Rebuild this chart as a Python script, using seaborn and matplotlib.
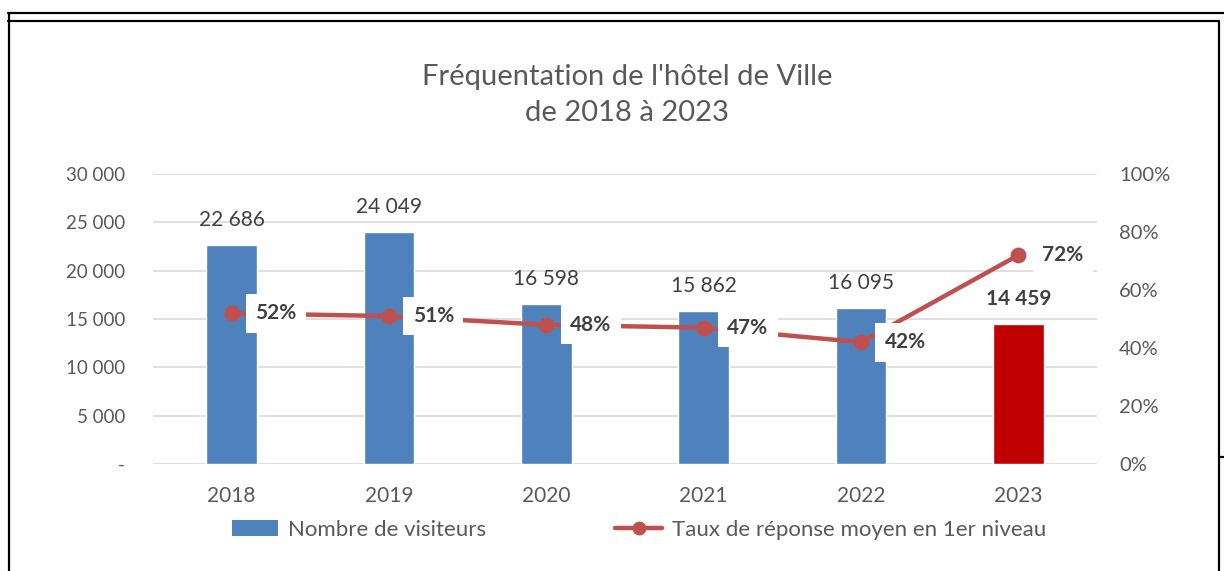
import matplotlib
matplotlib.use("Agg")
import matplotlib.pyplot as plt
import seaborn as sns
import pandas as pd
from matplotlib.patches import Patch
from matplotlib.lines import Line2D

years = ["2018", "2019", "2020", "2021", "2022", "2023"]
visiteurs = [22686, 24049, 16598, 15862, 16095, 14459]
taux = [0.52, 0.51, 0.48, 0.47, 0.42, 0.72]
bar_colors = ["#4F81BD", "#4F81BD", "#4F81BD", "#4F81BD", "#4F81BD", "#C00000"]
left_ticks = [0, 5000, 10000, 15000, 20000, 25000, 30000]
right_ticks = [0, 0.2, 0.4, 0.6, 0.8, 1.0]

sns.set_theme(style="white")
plt.rcParams["font.family"] = ["Lato", "DejaVu Sans"]

df = pd.DataFrame({"annee": years, "visiteurs": visiteurs, "taux": taux})

fig = plt.figure(figsize=(12.24, 5.71), dpi=100)
ax = fig.add_axes([153/1224, 1-464/571, (1097-153)/1224, 290/571])

sns.barplot(data=df, x="annee", y="visiteurs", hue="annee", palette=bar_colors,
            legend=False, width=0.32, ax=ax, saturation=1)
ax.set_xlim(-0.5, 5.5)
ax.set_ylim(0, 30000)
ax.set_yticks(left_ticks)
ax.set_yticklabels(["-" if v == 0 else f"{v:,}".replace(",", " ") for v in left_ticks])
ax.grid(axis="y", color="#D9D9D9", linewidth=1.2)
ax.set_axisbelow(True)
for s in ax.spines.values():
    s.set_visible(False)
ax.set_xlabel("")
ax.set_ylabel("")
ax.tick_params(axis="x", length=0, pad=16, labelsize=15, labelcolor="#595959")
ax.tick_params(axis="y", length=0, pad=20, labelsize=13.5, labelcolor="#595959")

for i, v in enumerate(visiteurs):
    last = i == len(visiteurs) - 1
    ax.annotate(f"{v:,}".replace(",", " "), (i, v), xytext=(0, 18), textcoords="offset points",
                ha="center", va="center", fontsize=15, color="#404040",
                fontweight="bold" if last else "normal")

ax2 = ax.twinx()
sns.pointplot(data=df, x="annee", y="taux", color="#C0504D", markers="o",
              linestyles="-", ax=ax2, markersize=9, linewidth=3.2)
ax2.set_xlim(-0.5, 5.5)
ax2.set_ylim(0, 1.0)
ax2.set_yticks(right_ticks)
ax2.set_yticklabels([f"{int(round(t*100))}%" for t in right_ticks])
for s in ax2.spines.values():
    s.set_visible(False)
ax2.set_xlabel("")
ax2.set_ylabel("")
ax2.tick_params(axis="y", length=0, pad=16, labelsize=14.5, labelcolor="#595959")
ax2.grid(False)

for i, t in enumerate(taux):
    ax2.annotate(f"{int(round(t*100))}%", (i, t), xytext=(17, 0), textcoords="offset points",
                 ha="left", va="center", fontsize=15, fontweight="bold", color="#404040",
                 bbox=dict(boxstyle="square,pad=0.45", fc="white", ec="none"), zorder=10)

fig.text(627/1224, 1-77/571, "Fréquentation de l'hôtel de Ville", ha="center", va="center",
         fontsize=21, color="#595959")
fig.text(627/1224, 1-113/571, "de 2018 à 2023", ha="center", va="center",
         fontsize=21, color="#595959")

handles = [Patch(facecolor="#4F81BD", edgecolor="none"),
           Line2D([0], [0], color="#C0504D", lw=3.2, marker="o", markersize=9)]
fig.legend(handles, ["Nombre de visiteurs", "Taux de réponse moyen en 1er niveau"],
           loc="center", bbox_to_anchor=(639/1224, 1-530/571), ncol=2, frameon=False,
           fontsize=16, handlelength=2.1, handletextpad=0.45, columnspacing=5.8,
           labelcolor="#595959")

def fl(x0, y0, x1, y1, lw=1.6):
    fig.add_artist(Line2D([x0/1224, x1/1224], [1-y0/571, 1-y1/571], color="black", lw=lw))

fl(8, 13, 1224, 13)
fl(8, 21, 1219, 21)
fl(9, 13, 9, 571)
fl(1219, 21, 1219, 571)
fl(1219, 457, 1224, 457)

fig.savefig("out.png", dpi=100)
